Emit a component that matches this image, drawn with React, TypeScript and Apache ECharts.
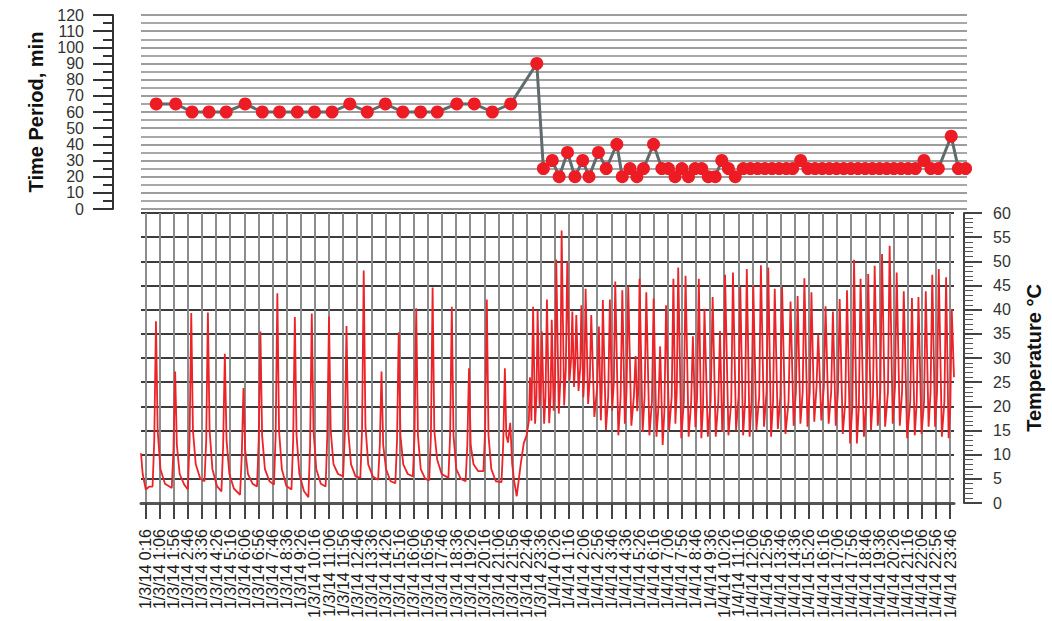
import React, { useEffect, useRef } from 'react';
import * as echarts from 'echarts';

// X positions are minutes since 1/3/14 0:00 (axis spans two full days)
const totalMinutes = 2880;
const firstTickMinute = 16;
const tickStepMinutes = 50;

const timeLabels = [
  '1/3/14 0:16', '1/3/14 1:06', '1/3/14 1:56', '1/3/14 2:46', '1/3/14 3:36', '1/3/14 4:26',
  '1/3/14 5:16', '1/3/14 6:06', '1/3/14 6:56', '1/3/14 7:46', '1/3/14 8:36', '1/3/14 9:26',
  '1/3/14 10:16', '1/3/14 11:06', '1/3/14 11:56', '1/3/14 12:46', '1/3/14 13:36', '1/3/14 14:26',
  '1/3/14 15:16', '1/3/14 16:06', '1/3/14 16:56', '1/3/14 17:46', '1/3/14 18:36', '1/3/14 19:26',
  '1/3/14 20:16', '1/3/14 21:06', '1/3/14 21:56', '1/3/14 22:46', '1/3/14 23:36',
  '1/4/14 0:26', '1/4/14 1:16', '1/4/14 2:06', '1/4/14 2:56', '1/4/14 3:46', '1/4/14 4:36',
  '1/4/14 5:26', '1/4/14 6:16', '1/4/14 7:06', '1/4/14 7:56', '1/4/14 8:46', '1/4/14 9:36',
  '1/4/14 10:26', '1/4/14 11:16', '1/4/14 12:06', '1/4/14 12:56', '1/4/14 13:46', '1/4/14 14:36',
  '1/4/14 15:26', '1/4/14 16:16', '1/4/14 17:06', '1/4/14 17:56', '1/4/14 18:46', '1/4/14 19:36',
  '1/4/14 20:26', '1/4/14 21:16', '1/4/14 22:06', '1/4/14 22:56', '1/4/14 23:46',
];

// [minute, time period (min)]
const timePeriod = [
  [53, 65], [121, 65], [178, 60], [237, 60], [297, 60], [363, 65], [423, 60], [483, 60],
  [545, 60], [605, 60], [666, 60], [728, 65], [789, 60], [852, 65], [913, 60], [975, 60],
  [1033, 60], [1101, 65], [1162, 65], [1225, 60], [1289, 65], [1380, 90],
  [1403, 25], [1434, 30], [1458, 20], [1487, 35], [1513, 20], [1540, 30], [1562, 20], [1595, 35],
  [1622, 25], [1659, 40], [1678, 20], [1705, 25], [1729, 20], [1752, 25], [1787, 40], [1816, 25],
  [1839, 25], [1862, 20], [1886, 25], [1909, 20], [1932, 25], [1955, 25], [1978, 20], [2002, 20],
  [2025, 30], [2048, 25], [2072, 20], [2100, 25],
  [2125, 25], [2150, 25], [2175, 25], [2200, 25], [2225, 25], [2250, 25], [2272, 25], [2300, 30],
  [2325, 25], [2350, 25], [2375, 25], [2400, 25], [2425, 25], [2450, 25], [2475, 25], [2500, 25],
  [2525, 25], [2550, 25], [2575, 25], [2600, 25], [2625, 25], [2650, 25], [2675, 25], [2700, 25],
  [2730, 30], [2754, 25], [2780, 25], [2825, 45], [2850, 25], [2875, 25],
];

// [minute, temperature °C]
const temperature = [
  [0, 10.3], [6, 6], [17, 2.8], [30, 3.4],
  [41, 3.4], [47, 13], [53, 37.6], [59, 15], [69, 7], [85, 4],
  [109, 3.1], [115, 11], [121, 27.2], [127, 12], [137, 6], [153, 3.8],
  [166, 2.8], [172, 13], [178, 39.3], [184, 15], [194, 8], [210, 5],
  [225, 4.5], [231, 13], [237, 39.4], [243, 15], [253, 7], [269, 3.5],
  [285, 2.4], [291, 12], [297, 30.9], [303, 13], [313, 6], [329, 3],
  [351, 1.7], [357, 10], [363, 23.8], [369, 11], [379, 6], [395, 4],
  [411, 3.4], [417, 13], [423, 35.5], [429, 14], [439, 7], [455, 4.5],
  [471, 3.8], [477, 14], [483, 43.4], [489, 15], [499, 7], [515, 3.5],
  [533, 2.8], [539, 13], [545, 38.5], [551, 14], [561, 6], [577, 2.5],
  [593, 1.2], [599, 12], [605, 39.2], [611, 15], [621, 7], [637, 4],
  [654, 3.4], [660, 14], [666, 38.6], [672, 15], [682, 8], [698, 6],
  [716, 5.5], [722, 14], [728, 36.6], [734, 15], [744, 8], [760, 5.5],
  [777, 5.2], [783, 15], [789, 48.1], [795, 16], [805, 8], [821, 5.5],
  [840, 4.8], [846, 12], [852, 27.2], [858, 12], [868, 7], [884, 4.5],
  [901, 4.1], [907, 13], [913, 35.3], [919, 14], [929, 8], [945, 6],
  [963, 5.5], [969, 14], [975, 40.3], [981, 14], [991, 7], [1007, 5],
  [1021, 4.7], [1027, 14], [1033, 44.6], [1039, 15], [1049, 9], [1065, 6],
  [1089, 5.2], [1095, 14], [1101, 40.6], [1107, 14], [1117, 7], [1133, 5],
  [1150, 4.5], [1156, 12], [1162, 27.9], [1168, 12], [1178, 8], [1194, 6.6],
  [1213, 6.6], [1219, 15], [1225, 42.1], [1231, 14], [1241, 7], [1257, 4.5],
  [1277, 4.3], [1283, 12], [1289, 27.9], [1294, 14], [1300, 12.5], [1308, 16.6], [1315, 8],
  [1322, 4.5], [1331, 1.4], [1345, 8], [1356, 12.4], [1366, 14], [1374, 17], [1378, 26], [1383, 17],
  [1389, 40.6], [1396, 16.4], [1401, 22],
  [1405, 39.9], [1412, 19.8], [1416, 24],
  [1420, 35.5], [1428, 16.4], [1433, 22],
  [1438, 42.1], [1446, 16.5], [1451, 22],
  [1455, 37.9], [1462, 19.1], [1467, 25],
  [1471, 50.4], [1480, 18.5], [1486, 26],
  [1490, 56.4], [1499, 20.2], [1505, 28],
  [1510, 49.9], [1518, 25.3], [1524, 30],
  [1528, 39.6], [1534, 24], [1538, 29],
  [1542, 38.9], [1550, 23.2], [1556, 28],
  [1560, 40.9], [1567, 21.9], [1571, 27],
  [1575, 44.3], [1584, 20.5], [1590, 26],
  [1595, 38.9], [1606, 17.8], [1616, 24],
  [1622, 36.5], [1629, 17.1], [1632, 23],
  [1636, 42], [1647, 15.1], [1655, 22],
  [1661, 42.1], [1669, 19.1], [1675, 25],
  [1680, 45.8], [1691, 14], [1699, 22],
  [1705, 44], [1714, 16.4], [1720, 23],
  [1726, 44.8], [1737, 16], [1746, 22],
  [1752, 30.4], [1758, 19], [1762, 24],
  [1766, 46.4], [1777, 14.7], [1784, 22],
  [1790, 43.6], [1801, 14], [1810, 21],
  [1816, 42.3], [1826, 13.7], [1833, 20],
  [1839, 32.4], [1848, 12], [1854, 19],
  [1860, 40.9], [1871, 15.1], [1880, 22],
  [1886, 46.4], [1893, 16.4], [1898, 23],
  [1903, 48.7], [1914, 13.4], [1923, 21],
  [1929, 47], [1940, 13.7], [1949, 21],
  [1955, 34.5], [1964, 15.7], [1970, 22],
  [1976, 46.4], [1985, 13.4], [1991, 20],
  [1996, 40.2], [2008, 13.7], [2018, 21],
  [2025, 42.6], [2036, 13.7], [2045, 21],
  [2051, 35.6], [2059, 14.7], [2064, 21],
  [2069, 47.2], [2081, 14], [2091, 21],
  [2097, 47.7], [2108, 15], [2117, 22],
  [2123, 44.7], [2133, 14], [2140, 21],
  [2146, 48.4], [2156, 13.7], [2163, 21],
  [2169, 45], [2180, 15.1], [2190, 22],
  [2196, 49.2], [2207, 15.8], [2216, 23],
  [2222, 48.7], [2232, 13.7], [2239, 21],
  [2245, 44.3], [2256, 15.3], [2265, 22],
  [2271, 44.7], [2283, 14.3], [2294, 21],
  [2301, 41.7], [2312, 16], [2320, 23],
  [2326, 42.8], [2336, 16.4], [2344, 23],
  [2350, 46.5], [2361, 15.8], [2369, 23],
  [2375, 43.6], [2385, 16.8], [2393, 24],
  [2399, 34.9], [2410, 17.1], [2419, 24],
  [2425, 40.7], [2436, 16.4], [2445, 23],
  [2451, 39.6], [2461, 16], [2469, 23],
  [2475, 42.2], [2486, 14.3], [2495, 21],
  [2501, 44], [2512, 12.3], [2520, 20],
  [2526, 50.3], [2536, 12.3], [2543, 20],
  [2549, 46.4], [2561, 13.7], [2570, 21],
  [2576, 47.4], [2586, 15.1], [2593, 22],
  [2599, 49.1], [2610, 16], [2619, 23],
  [2625, 51.5], [2636, 15.8], [2646, 23],
  [2652, 53.2], [2663, 16.4], [2671, 24],
  [2677, 47.7], [2688, 16], [2696, 23],
  [2702, 43.8], [2714, 13.4], [2725, 21],
  [2731, 42.4], [2741, 14], [2748, 21],
  [2754, 42.6], [2765, 14.3], [2774, 21],
  [2780, 43.8], [2790, 15.8], [2797, 23],
  [2803, 47.2], [2813, 15.8], [2820, 23],
  [2826, 48.4], [2837, 13.7], [2846, 21],
  [2852, 46.7], [2861, 13.4], [2867, 20],
  [2872, 40.1], [2880, 26],
];

const FONT = 'Liberation Sans, Arial, Helvetica, sans-serif';

export default function App() {
  const ref = useRef<HTMLDivElement>(null);

  useEffect(() => {
    if (!ref.current) return;
    const chart = echarts.init(ref.current, null, { renderer: 'svg' });
    const categories: string[] = [];
    for (let i = 0; i <= totalMinutes; i++) categories.push(String(i));
    const tickIndex = (i: number) => {
      if (i < firstTickMinute || (i - firstTickMinute) % tickStepMinutes !== 0) return -1;
      const k = (i - firstTickMinute) / tickStepMinutes;
      return k < timeLabels.length ? k : -1;
    };
    const isTick = (i: number) => tickIndex(i) >= 0;
    const labelFormatter = (v: string) => timeLabels[tickIndex(Number(v))] ?? '';
    const labelStyle = {
      show: true,
      showMinLabel: true,
      showMaxLabel: true,
      hideOverlap: false,
      rotate: 90,
      margin: 26,
      fontSize: 16,
      color: '#1a1a1a',
      fontFamily: FONT,
      formatter: labelFormatter,
    };

    chart.setOption({
      animation: false,
      grid: [
        { left: 141, right: 85, top: 15, height: 194 },
        { left: 141, right: 85, top: 213, height: 290 },
      ],
      xAxis: [
        {
          type: 'category',
          gridIndex: 0,
          data: categories,
          boundaryGap: false,
          show: false,
        },
        {
          type: 'category',
          gridIndex: 1,
          position: 'bottom',
          data: categories,
          boundaryGap: false,
          axisLine: { show: true, lineStyle: { color: '#555', width: 3 } },
          axisTick: {
            show: true,
            interval: (i: number) => isTick(i),
            length: 16,
            lineStyle: { color: '#444', width: 2 },
          },
          axisLabel: {
            ...labelStyle,
            interval: (i: number) => tickIndex(i) >= 0 && tickIndex(i) % 2 === 0,
          },
          splitLine: {
            show: true,
            interval: (i: number) => isTick(i),
            lineStyle: { color: '#8c8c8c', width: 2 },
          },
        },
        {
          type: 'category',
          gridIndex: 1,
          position: 'bottom',
          offset: 0,
          data: categories,
          boundaryGap: false,
          axisLine: { show: false },
          axisTick: { show: false },
          splitLine: { show: false },
          axisLabel: {
            ...labelStyle,
            interval: (i: number) => tickIndex(i) >= 0 && tickIndex(i) % 2 === 1,
          },
        },
      ],
      yAxis: [
        {
          type: 'value',
          gridIndex: 0,
          position: 'left',
          offset: 28,
          min: 0,
          max: 120,
          interval: 10,
          name: 'Time Period, min',
          nameLocation: 'middle',
          nameGap: 64,
          nameTextStyle: { fontSize: 20, fontWeight: 'bold', color: '#111', fontFamily: FONT },
          axisLine: { show: true, lineStyle: { color: '#333', width: 2 } },
          axisTick: { show: true, length: 20, lineStyle: { color: '#333', width: 2 } },
          minorTick: { show: true, splitNumber: 2, length: 10, lineStyle: { color: '#333', width: 2 } },
          axisLabel: { margin: 29, fontSize: 16, color: '#333', fontFamily: FONT },
          splitLine: { show: true, lineStyle: { color: '#9d9d9d', width: 2 } },
          minorSplitLine: { show: true, lineStyle: { color: '#a8a8a8', width: 2 } },
        },
        {
          type: 'value',
          gridIndex: 1,
          position: 'right',
          offset: 10,
          min: 0,
          max: 60,
          interval: 5,
          name: 'Temperature °C',
          nameLocation: 'middle',
          nameGap: 60,
          nameTextStyle: { fontSize: 20, fontWeight: 'bold', color: '#111', fontFamily: FONT },
          axisLine: { show: true, lineStyle: { color: '#444', width: 2 } },
          axisTick: { show: true, length: 18, lineStyle: { color: '#444', width: 2 } },
          minorTick: { show: true, splitNumber: 5, length: 9, lineStyle: { color: '#555', width: 1 } },
          axisLabel: { margin: 29, fontSize: 16, color: '#333', fontFamily: FONT },
          splitLine: { show: true, lineStyle: { color: '#3c3c3c', width: 2 } },
        },
      ],
      series: [
        {
          name: 'Temperature',
          type: 'line',
          xAxisIndex: 1,
          yAxisIndex: 1,
          data: temperature,
          showSymbol: false,
          silent: true,
          lineStyle: { color: '#ec2328', width: 1.8 },
          z: 3,
        },
        {
          name: 'Time Period',
          type: 'line',
          xAxisIndex: 0,
          yAxisIndex: 0,
          data: timePeriod,
          symbol: 'circle',
          symbolSize: 13,
          showSymbol: true,
          showAllSymbol: true,
          silent: true,
          lineStyle: { color: '#5f6b6d', width: 3 },
          itemStyle: { color: '#ed1c24' },
          z: 4,
        },
      ],
    });

    return () => chart.dispose();
  }, []);

  return (
    <div
      ref={ref}
      style={{ position: 'absolute', left: 0, top: 0, width: 1052, height: 621 }}
    />
  );
}
